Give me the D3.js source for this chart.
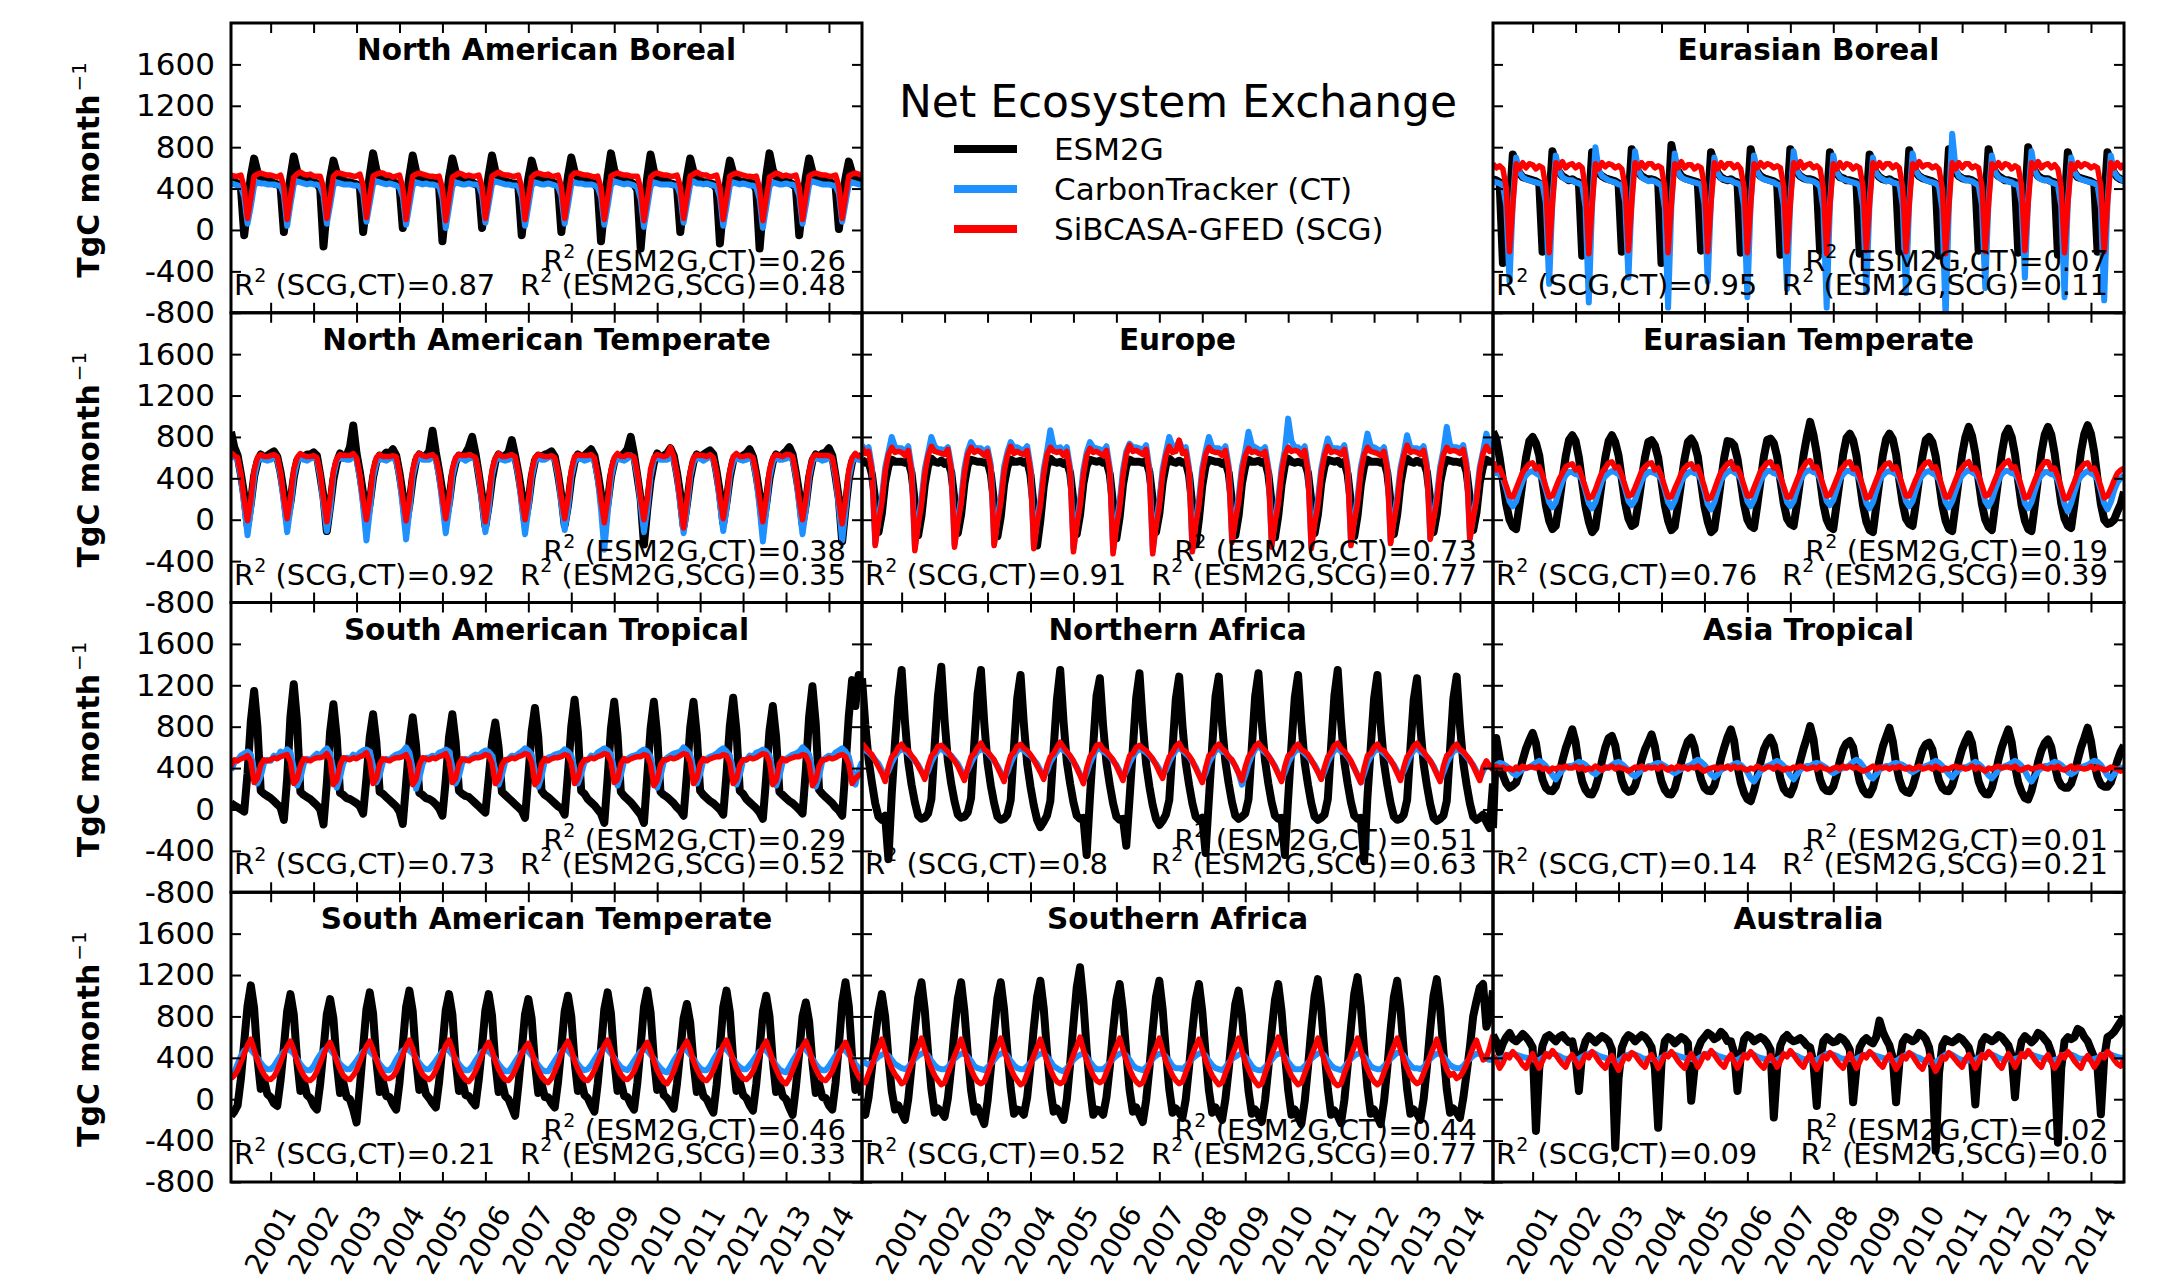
<!DOCTYPE html>
<html>
<head>
<meta charset="utf-8">
<script src="https://cdn.jsdelivr.net/npm/d3@7"></script>
<style>
  html, body { margin: 0; background: #ffffff; }
  svg { display: block; }
  text { font-family: "DejaVu Sans", sans-serif; fill: #000; }
</style>
</head>
<body>
<svg id="chart" width="2158" height="1287"></svg>
<script>
// Monthly net ecosystem exchange, TgC month^-1, Jan 2000 – Dec 2015 (one row per year).

// ---------- North American Boreal ----------
const naBorealESM = [
  480,460,450,410,-50,240,520,690,560,500,480,470,
  470,450,440,420,-20,260,510,710,570,510,490,470,
  480,460,450,400,-160,210,500,670,550,500,480,460,
  460,450,440,420,-20,270,530,740,580,510,480,470,
  470,460,450,430,20,280,520,720,570,500,490,480,
  480,470,460,410,-110,230,510,690,560,500,480,470,
  470,460,440,430,20,290,530,720,570,510,490,470,
  460,450,450,410,-50,250,500,670,550,490,480,470,
  470,460,450,420,-20,260,520,700,560,500,480,470,
  480,470,450,400,-110,220,520,740,580,510,490,480,
  470,460,440,390,-180,200,510,730,570,500,480,470,
  470,450,440,420,-20,260,510,690,560,500,480,460,
  460,450,440,400,-130,230,490,670,550,490,470,460,
  470,460,450,390,-180,210,520,740,580,510,480,470,
  470,460,440,410,-50,250,510,690,560,500,480,470,
  480,470,450,430,10,270,500,660,550,500,480,470
];
const naBorealCT = [
  450,440,430,420,320,60,230,430,460,450,450,440,
  440,440,430,430,340,40,250,440,470,460,450,440,
  450,440,440,420,330,60,240,430,460,450,440,440,
  440,430,430,420,350,80,260,440,470,460,450,440,
  450,440,430,410,320,50,240,430,460,450,440,450,
  440,440,430,420,310,20,220,420,460,450,440,440,
  450,440,440,430,340,70,250,440,470,460,450,440,
  440,430,430,420,320,40,230,430,460,450,440,440,
  450,440,430,420,330,60,240,440,460,450,450,440,
  440,440,430,410,320,50,230,430,470,460,450,440,
  450,440,430,410,300,30,220,420,460,450,440,440,
  440,440,430,430,340,70,250,440,470,450,450,440,
  450,440,430,420,320,40,230,430,460,450,440,450,
  440,430,430,410,300,20,220,420,460,450,440,440,
  450,440,440,420,330,60,240,440,470,460,450,440,
  440,440,430,430,350,80,260,440,460,450,440,440
];
const naBorealSCG = [
  530,520,520,530,410,110,310,520,540,550,540,530,
  530,520,510,530,420,100,320,510,540,560,540,530,
  540,520,520,520,410,110,310,520,550,550,540,530,
  530,520,520,540,430,120,330,520,540,550,550,530,
  530,510,520,530,410,100,320,520,540,550,540,530,
  520,520,510,520,400,90,300,510,530,550,540,520,
  530,520,520,530,420,110,320,520,540,560,540,530,
  530,520,520,530,410,100,310,510,540,550,540,530,
  540,520,520,530,420,110,320,520,550,550,540,530,
  530,520,510,520,410,100,310,520,540,550,540,530,
  530,520,520,520,400,90,300,510,540,550,540,530,
  530,520,520,530,420,110,320,520,540,560,540,530,
  530,510,520,530,410,100,310,520,540,550,540,530,
  520,520,510,520,400,90,300,510,530,550,540,520,
  530,520,520,530,410,100,320,520,540,550,540,530,
  530,520,520,530,420,110,320,520,540,550,540,530
];

// ---------- Eurasian Boreal ----------
const euBorealESM = [
  490,480,460,-320,-180,230,730,620,550,510,500,490,
  480,470,450,-210,-120,260,760,640,560,520,500,480,
  490,470,460,-250,-150,240,750,630,550,520,500,490,
  480,470,450,-210,-110,270,780,650,560,520,500,490,
  490,480,460,-320,-200,220,820,660,570,520,500,490,
  480,470,460,-200,-120,250,750,630,550,510,490,480,
  490,470,460,-220,-140,260,780,640,560,520,500,490,
  480,470,450,-240,-150,250,780,650,560,520,500,490,
  490,480,460,-200,-110,260,750,630,550,510,500,480,
  480,470,460,-230,-140,240,730,620,550,510,490,480,
  490,470,460,-210,-130,250,770,640,560,520,500,490,
  480,470,450,-250,-160,240,780,650,560,520,500,490,
  490,480,460,-200,-120,260,780,640,560,520,500,480,
  480,470,460,-220,-140,250,800,650,570,520,500,490,
  490,470,460,-240,-150,240,750,630,550,510,500,490,
  480,470,450,-210,-120,260,750,630,550,510,490,480
];
const euBorealCT = [
  470,460,450,430,240,-500,280,700,560,510,490,480,
  470,460,450,440,260,-520,300,720,570,510,490,480,
  480,460,450,430,220,-700,250,800,580,520,500,480,
  470,460,440,440,270,-460,320,760,570,510,490,470,
  480,470,450,430,210,-750,240,740,560,510,490,480,
  470,460,450,440,250,-500,300,700,550,500,490,480,
  480,460,450,430,230,-650,270,720,560,510,490,480,
  470,460,440,430,240,-570,290,760,570,520,500,480,
  480,470,450,420,210,-750,250,720,560,510,490,480,
  470,460,450,430,230,-600,280,700,550,510,490,470,
  480,460,450,440,240,-610,280,740,570,520,500,480,
  470,460,450,420,200,-850,230,930,600,520,500,480,
  480,470,450,430,240,-560,290,720,560,510,490,480,
  470,460,440,440,260,-460,310,760,570,510,490,480,
  480,460,450,430,230,-650,270,700,560,510,490,480,
  470,460,450,430,220,-680,260,720,560,510,490,470
];
const euBorealSCG = [
  640,600,620,590,410,-210,240,640,590,650,600,640,
  630,590,620,600,420,-220,250,650,600,660,600,630,
  640,600,630,600,400,-230,240,640,590,650,610,640,
  630,600,620,590,420,-200,260,650,600,650,600,640,
  640,600,620,600,410,-220,250,640,600,660,600,630,
  630,590,620,600,430,-210,260,650,590,650,600,640,
  640,600,630,590,410,-220,240,640,600,650,610,640,
  630,600,620,600,420,-210,250,650,600,660,600,630,
  640,600,620,590,400,-230,240,640,590,650,600,640,
  630,590,620,600,420,-200,260,650,600,650,600,640,
  640,600,630,600,410,-210,250,640,600,660,610,630,
  630,600,620,590,400,-230,240,650,590,650,600,640,
  640,600,620,600,420,-210,250,640,600,650,600,640,
  630,590,620,600,430,-200,260,650,600,660,600,630,
  640,600,630,590,410,-220,250,640,590,650,610,640,
  630,600,620,600,420,-210,250,650,600,650,600,640
];

// ---------- North American Temperate ----------
const naTempESM = [
  850,700,620,440,240,-50,160,420,560,630,600,620,
  640,660,610,460,260,0,170,410,570,620,610,630,
  630,650,620,430,220,-110,130,390,550,640,600,620,
  700,910,640,460,250,-30,160,410,560,620,610,650,
  640,680,620,450,240,-40,150,400,570,630,600,620,
  660,860,650,470,270,0,170,420,560,620,610,640,
  700,800,640,440,230,-60,140,390,560,630,600,620,
  650,770,620,450,250,-20,160,410,570,620,610,630,
  640,660,610,440,230,-50,140,400,560,630,600,620,
  650,680,620,450,250,-30,160,410,560,620,610,640,
  680,800,630,420,200,-240,100,380,550,640,600,620,
  640,690,620,450,240,-60,150,400,560,630,610,630,
  650,670,630,460,260,-30,170,410,570,620,600,620,
  640,680,610,440,240,-50,150,400,560,630,610,630,
  660,700,630,450,250,-40,150,410,570,630,600,640,
  650,690,620,420,200,-210,110,390,560,620,600,620
];
const naTempCT = [
  600,610,580,410,140,-150,90,410,560,600,580,570,
  580,600,590,430,160,-120,110,420,560,610,580,570,
  590,600,580,420,150,-110,100,430,570,600,590,580,
  580,620,580,400,130,-200,80,410,550,600,580,570,
  590,600,570,410,120,-190,90,420,560,610,580,580,
  580,610,580,420,150,-130,100,420,560,600,590,570,
  590,600,590,430,160,-120,110,430,570,600,580,570,
  580,600,580,420,140,-140,100,410,560,610,580,580,
  600,610,580,430,160,-100,110,420,560,600,590,570,
  580,600,570,400,100,-290,60,400,550,600,580,570,
  590,620,580,420,150,-120,100,420,570,610,580,580,
  580,600,580,420,140,-130,100,420,560,600,590,570,
  590,610,590,430,160,-110,110,430,560,600,580,570,
  580,600,570,400,120,-210,80,410,560,610,580,580,
  590,610,580,420,140,-140,100,420,570,600,590,570,
  580,600,580,410,130,-200,90,410,560,600,580,570
];
const naTempSCG = [
  650,620,600,440,190,-10,190,480,600,630,610,610,
  620,630,610,460,210,10,210,490,600,640,620,610,
  610,620,600,450,200,-20,200,470,590,630,620,620,
  620,640,600,440,190,0,200,480,600,630,610,610,
  610,620,610,450,200,-10,190,480,610,640,620,610,
  620,630,600,460,210,10,210,490,600,630,620,620,
  630,620,600,450,200,-20,200,480,600,640,610,610,
  620,630,610,450,190,0,190,470,600,630,620,610,
  610,620,600,460,210,10,210,480,610,630,620,620,
  620,630,600,440,190,-30,190,480,600,640,610,610,
  630,620,610,450,200,0,200,490,600,630,620,610,
  620,700,610,440,180,-80,180,470,600,630,620,620,
  610,630,600,460,210,10,210,480,610,640,610,610,
  620,620,600,450,200,-20,200,480,600,630,620,610,
  630,630,610,450,190,0,190,470,600,630,620,620,
  620,620,600,440,180,-40,180,480,600,640,610,610
];

// ---------- Europe ----------
const europeESM = [
  580,550,560,440,190,-120,60,360,520,580,560,560,
  560,550,570,450,170,-150,40,340,520,590,560,550,
  570,540,560,460,190,-130,50,350,530,580,570,560,
  560,550,560,440,160,-160,30,340,510,580,560,560,
  570,550,570,430,120,-250,0,320,520,590,560,550,
  560,540,560,450,180,-140,50,350,520,580,570,560,
  570,550,560,440,150,-180,30,340,520,580,560,560,
  560,550,570,460,190,-120,60,360,530,590,560,550,
  570,550,560,430,130,-240,10,330,520,580,570,560,
  560,540,560,450,170,-150,40,350,520,580,560,560,
  570,550,570,440,160,-170,40,340,530,590,560,550,
  560,550,560,450,180,-130,50,350,520,580,570,560,
  570,540,560,440,160,-160,40,340,520,580,560,560,
  560,550,570,450,170,-140,50,350,530,590,560,550,
  570,550,560,460,190,-120,60,360,520,580,570,560,
  560,550,570,460,200,-100,70,360,520,580,560,560
];
const europeCT = [
  720,670,700,510,-230,20,210,500,650,800,700,690,
  690,660,710,500,-270,0,190,490,640,800,710,680,
  680,670,700,520,-240,10,200,500,660,750,700,690,
  690,660,690,530,-230,20,210,510,650,750,700,700,
  680,670,710,510,-250,0,190,490,660,865,710,690,
  700,660,700,500,-280,-20,180,480,650,750,700,690,
  680,660,710,500,-300,-30,170,480,660,735,700,700,
  690,670,720,490,-300,-20,180,490,650,800,710,690,
  760,680,700,500,-290,-10,190,500,660,800,700,690,
  690,660,710,520,-200,30,220,510,660,850,720,700,
  680,670,700,510,-240,10,200,500,670,977,760,700,
  700,660,710,500,-260,0,190,490,650,785,700,690,
  690,670,720,520,-230,20,210,510,660,832,710,700,
  680,660,700,520,-210,30,220,500,650,816,700,690,
  690,670,710,530,-180,40,230,510,670,897,720,700,
  700,680,720,540,-180,40,230,510,660,832,710,700
];
const europeSCG = [
  700,640,660,480,-250,-20,160,460,630,700,650,660,
  650,620,670,470,-300,-50,140,440,620,710,660,650,
  640,630,680,490,-265,-30,150,450,630,700,650,670,
  650,620,660,500,-250,-20,160,460,620,710,640,660,
  640,630,670,480,-280,-40,140,440,630,700,660,650,
  660,620,660,470,-310,-60,130,430,620,690,650,660,
  640,620,670,470,-330,-70,120,430,630,720,660,670,
  650,630,680,460,-330,-60,130,440,620,710,650,660,
  770,640,660,470,-310,-50,140,450,630,700,660,650,
  650,620,670,490,-220,-10,170,460,620,690,650,660,
  640,630,660,480,-265,-30,150,450,630,700,660,670,
  660,620,670,470,-280,-40,140,440,620,710,650,660,
  650,630,680,490,-250,-20,160,460,630,700,660,650,
  640,620,660,490,-230,-10,170,460,620,720,650,660,
  650,630,670,500,-190,0,180,470,630,700,660,670,
  660,640,680,510,-190,10,190,480,640,710,660,670
];

// ---------- Eurasian Temperate ----------
const euTempESM = [
  850,780,600,380,150,0,-70,-90,140,380,600,760,
  800,740,620,370,140,-10,-90,-60,150,390,610,770,
  816,760,600,360,130,-20,-120,-80,140,380,600,760,
  816,750,620,390,160,10,-60,-40,160,390,600,750,
  768,720,600,370,140,-10,-100,-70,140,370,590,750,
  784,730,610,360,130,-20,-120,-90,130,380,600,760,
  752,720,590,370,150,0,-60,-80,140,380,610,770,
  784,740,610,380,160,10,-40,-60,150,390,620,800,
  945,820,640,390,150,0,-70,-90,150,390,630,790,
  832,770,620,370,140,-20,-100,-120,130,380,620,780,
  832,780,630,380,160,10,-40,-60,160,400,610,770,
  800,750,610,370,140,-10,-90,-110,140,390,630,800,
  897,810,640,380,150,0,-70,-100,150,400,640,820,
  880,800,630,370,140,-10,-90,-110,140,400,650,820,
  897,820,640,390,160,10,-60,-80,150,410,660,830,
  913,830,650,390,150,0,-40,-30,0,80,150,270
];
const euTempCT = [
  480,450,440,400,300,180,130,180,290,380,430,460,
  470,450,430,390,290,170,120,170,280,370,430,460,
  460,440,430,390,280,160,110,170,280,380,420,450,
  470,460,440,400,300,180,140,190,290,380,430,460,
  460,450,430,390,290,170,120,180,280,370,420,450,
  470,450,440,390,280,150,100,170,280,380,430,460,
  480,460,440,400,300,180,130,190,290,380,430,470,
  470,450,440,400,300,170,130,180,290,380,440,470,
  480,460,450,400,300,180,140,190,290,390,440,470,
  470,450,440,390,290,160,110,170,280,380,430,460,
  470,460,440,400,300,180,130,180,290,380,430,460,
  470,450,430,390,290,170,120,180,280,370,430,460,
  480,460,440,400,300,180,130,190,290,380,440,470,
  470,450,440,390,290,160,110,170,280,380,430,460,
  460,440,430,380,280,150,80,160,270,370,420,450,
  470,450,430,390,280,160,100,170,280,360,400,430
];
const euTempSCG = [
  560,480,500,420,330,230,220,300,380,460,500,540,
  550,490,510,430,320,220,230,310,390,450,510,530,
  540,480,500,410,310,210,220,290,380,460,500,550,
  560,500,510,430,330,230,240,310,390,470,510,540,
  550,480,500,420,320,220,220,300,370,450,500,530,
  540,490,510,420,320,200,210,290,380,460,500,540,
  560,490,500,430,330,230,230,310,390,470,510,550,
  560,500,510,420,320,220,220,300,380,460,510,560,
  570,500,510,430,330,230,240,310,390,470,510,550,
  560,490,500,420,320,210,220,300,380,460,500,540,
  550,490,510,430,330,230,230,310,390,460,510,550,
  560,500,510,420,320,220,220,300,380,460,500,540,
  560,490,500,430,330,230,240,310,390,470,510,550,
  570,500,510,420,320,210,220,300,380,460,510,560,
  560,490,500,420,310,200,210,290,370,460,500,540,
  550,490,500,420,320,210,230,300,380,450,480,500
];

// ---------- South American Tropical ----------
const saTropESM = [
  60,40,20,0,-20,350,850,1145,800,180,150,130,
  110,80,50,20,-100,300,900,1210,850,170,140,120,
  100,70,40,0,-145,250,750,1016,700,160,140,110,
  100,80,60,30,-40,300,700,920,650,170,150,120,
  90,60,30,-20,-140,250,650,890,620,160,140,110,
  100,80,50,10,-60,280,700,920,650,180,150,130,
  120,90,60,30,0,-30,300,650,840,600,170,140,
  110,80,50,20,-10,-80,320,750,980,700,180,140,
  120,90,60,30,10,-50,350,800,1060,750,180,150,
  100,70,40,0,-40,-130,300,780,1040,720,170,130,
  100,70,30,-10,-50,-130,320,780,1040,720,170,140,
  120,90,60,20,-10,-60,340,790,1040,720,180,140,
  110,80,60,30,0,-50,350,810,1080,760,180,150,
  100,70,40,10,-30,-90,310,760,1000,700,170,140,
  110,80,60,30,0,-40,380,900,1190,830,190,150,
  120,90,60,20,-10,-60,400,900,1250,1000,1300,1150
];
const saTropCT = [
  380,450,480,520,540,560,530,380,250,320,450,480,
  470,520,500,560,540,580,550,400,230,300,440,490,
  480,510,540,520,560,590,540,380,210,310,450,500,
  490,530,510,550,570,580,560,420,260,330,460,490,
  480,510,530,540,560,600,550,390,200,300,440,500,
  500,520,510,550,560,580,560,410,250,320,450,490,
  480,510,530,520,550,570,560,520,380,240,330,460,
  490,520,510,540,560,590,570,530,370,220,320,470,
  500,510,530,540,550,580,560,520,390,250,340,460,
  480,520,510,550,570,590,570,530,380,230,330,470,
  490,510,520,530,560,580,560,510,360,210,320,460,
  500,520,540,550,560,600,570,530,390,250,340,480,
  490,510,520,540,570,590,560,520,380,240,330,470,
  480,520,510,550,560,580,560,520,370,230,320,460,
  490,510,530,540,560,600,570,530,380,220,320,470,
  500,520,510,550,570,590,560,510,370,240,380,460
];
const saTropSCG = [
  420,480,470,490,500,520,470,260,300,430,480,470,
  480,500,490,510,520,530,460,250,290,420,490,480,
  470,490,500,500,510,540,480,240,280,430,500,490,
  480,500,490,510,520,550,470,250,300,440,490,480,
  470,490,500,500,510,530,460,240,290,430,500,490,
  480,500,490,510,520,540,470,260,300,440,490,480,
  470,490,500,500,510,530,520,450,250,290,430,480,
  480,500,490,510,520,540,530,460,240,280,440,490,
  470,490,500,500,510,530,520,450,250,300,430,480,
  480,500,490,510,520,540,530,460,260,290,440,490,
  470,490,500,510,510,530,520,440,230,280,430,480,
  480,500,490,500,520,540,530,460,250,300,440,490,
  470,490,500,510,510,530,520,450,250,290,430,480,
  480,500,490,500,520,540,530,460,240,280,440,490,
  470,490,500,510,510,530,520,450,230,280,420,480,
  480,500,490,500,520,530,510,440,250,300,330,350
];

// ---------- Northern Africa ----------
const nAfricaESM = [
  1268,820,480,260,60,-70,-100,-60,-480,150,650,1080,
  1348,850,460,240,70,-60,-90,-80,-40,100,620,1100,
  1380,860,470,250,80,-50,-80,-70,-30,110,640,1120,
  1348,840,450,230,60,-70,-100,-90,-50,90,600,1080,
  1300,820,440,220,40,-100,-170,-120,-60,80,580,1060,
  1348,850,460,250,70,-60,-90,-80,-440,120,620,1100,
  1268,800,450,240,60,-70,-100,-90,-350,110,600,1080,
  1316,830,440,220,40,-90,-150,-110,-50,90,590,1070,
  1284,810,450,240,60,-70,-100,-80,-420,100,610,1090,
  1284,820,460,250,70,-60,-90,-70,-40,100,600,1090,
  1316,840,470,250,70,-60,-90,-80,-440,110,620,1080,
  1300,830,450,240,60,-70,-100,-80,-50,100,610,1100,
  1348,850,460,250,70,-60,-90,-80,-500,120,600,1070,
  1300,820,450,240,60,-70,-100,-90,-50,90,590,1060,
  1268,800,440,230,50,-80,-110,-90,-60,80,580,1070,
  1284,810,450,240,60,-70,-100,-80,-50,-120,-180,250
];
const nAfricaCT = [
  590,570,550,520,480,440,380,320,370,450,510,560,
  580,570,540,510,470,430,370,310,370,460,520,570,
  590,560,540,520,480,440,380,320,380,450,510,560,
  580,570,550,510,470,420,360,300,360,450,520,570,
  590,570,540,520,480,440,380,320,370,460,510,560,
  600,570,550,510,460,410,340,270,350,450,520,580,
  590,560,540,510,470,430,370,310,370,450,510,560,
  580,570,550,520,480,440,390,330,380,460,520,570,
  600,570,540,510,460,410,340,280,350,450,510,570,
  590,560,550,510,470,420,350,240,330,440,520,580,
  620,580,550,520,470,420,350,290,360,450,510,560,
  580,570,540,510,470,430,370,300,370,460,520,570,
  590,560,550,510,460,400,330,260,350,450,510,560,
  580,570,540,510,470,430,370,310,370,450,520,570,
  590,560,540,510,470,420,350,290,360,450,510,560,
  580,570,550,510,470,430,370,300,370,440,420,400
];
const nAfricaSCG = [
  640,600,560,530,470,410,350,270,410,510,540,600,
  630,580,570,520,480,420,360,290,420,520,550,610,
  620,590,560,510,470,420,350,280,400,510,540,600,
  640,580,560,520,480,410,340,270,410,520,550,610,
  630,590,570,530,480,420,360,290,420,510,540,600,
  650,600,560,520,470,400,330,250,400,510,550,620,
  630,580,560,520,480,420,350,280,410,520,540,600,
  620,590,570,530,490,430,360,300,420,510,550,610,
  640,580,560,520,470,400,330,260,400,520,540,600,
  630,590,560,510,480,420,350,280,410,510,550,610,
  640,600,570,520,470,410,340,270,420,520,540,600,
  630,580,560,530,480,420,360,290,410,510,550,620,
  640,590,560,520,470,400,330,260,400,520,540,600,
  630,580,570,520,480,420,350,280,410,510,550,610,
  640,590,560,510,470,410,340,270,420,520,540,600,
  630,580,560,520,480,420,350,280,410,470,420,380
];

// ---------- Asia Tropical ----------
const asiaTropESM = [
  -180,690,500,330,250,210,230,260,350,480,590,670,
  740,640,430,290,210,180,177,220,330,470,590,680,
  774,650,420,270,190,150,145,210,320,470,600,690,
  710,620,430,280,200,170,177,230,340,480,580,650,
  725,610,410,270,190,150,145,200,320,460,570,660,
  693,600,420,290,210,180,177,230,350,490,600,700,
  774,660,420,260,160,100,80,180,310,460,580,650,
  693,620,450,300,200,160,145,220,340,470,590,690,
  806,680,440,290,210,180,177,220,330,470,580,640,
  661,600,420,270,190,150,145,210,330,480,610,700,
  790,660,440,290,200,170,160,220,330,460,570,630,
  645,580,410,280,210,180,177,230,340,470,580,660,
  725,640,430,270,190,150,145,210,330,480,600,690,
  774,650,420,260,170,110,97,180,310,460,570,640,
  677,600,430,290,230,210,210,250,350,480,600,690,
  790,660,450,310,240,220,220,260,360,470,560,620
];
const asiaTropCT = [
  420,430,450,440,420,390,350,330,360,390,400,410,
  430,450,470,450,420,380,330,290,340,380,410,420,
  420,440,460,450,430,400,360,340,370,390,400,410,
  430,450,460,440,410,380,340,320,350,380,400,420,
  420,440,450,440,420,400,370,350,370,390,410,420,
  430,460,480,460,430,390,340,310,340,380,400,410,
  420,440,450,430,400,360,300,270,320,370,400,420,
  430,450,470,450,420,380,330,290,340,380,410,420,
  420,440,450,440,420,400,370,350,370,390,400,410,
  430,460,480,460,420,370,320,300,340,380,410,420,
  420,440,450,440,430,410,380,360,380,400,410,420,
  430,450,470,450,420,380,340,310,350,380,400,410,
  420,440,460,440,410,370,330,300,340,380,410,420,
  430,450,470,450,420,370,310,270,320,370,400,420,
  420,440,460,450,430,400,360,340,360,390,410,420,
  430,450,470,460,430,380,330,300,340,380,400,410
];
const asiaTropSCG = [
  390,420,400,410,390,400,380,410,390,420,400,410,
  410,400,420,390,400,370,400,390,410,400,420,400,
  400,420,390,410,380,400,390,420,400,380,410,400,
  420,390,410,400,390,370,390,410,400,420,390,410,
  400,410,390,420,400,380,410,390,420,400,410,390,
  410,400,420,390,370,390,400,410,390,410,400,420,
  390,420,400,410,390,380,400,390,420,400,390,410,
  410,390,420,400,380,400,390,410,400,420,410,390,
  400,410,390,420,400,390,380,400,410,390,420,400,
  420,400,410,390,370,380,400,420,390,410,400,410,
  390,410,400,420,400,390,410,390,400,420,390,400,
  410,390,420,400,380,400,390,410,420,400,410,390,
  400,420,390,410,390,370,400,390,410,420,400,410,
  410,400,420,390,380,400,410,390,400,410,420,400,
  390,410,400,420,390,380,400,420,390,410,400,390,
  400,420,390,410,400,380,390,410,400,390,370,390
];

// ---------- South American Temperate ----------
const saTempESM = [
  -160,-120,-60,200,550,900,1100,880,400,100,190,50,
  20,-40,-65,180,500,850,1016,820,380,80,180,40,
  10,-60,-100,150,480,820,968,780,350,60,160,20,
  0,-100,-225,120,500,870,1032,830,370,70,170,30,
  20,-50,-100,160,520,890,1050,850,390,90,190,50,
  10,-40,-80,170,500,860,1016,820,370,80,180,40,
  30,-20,-60,190,510,860,1016,810,360,70,170,30,
  0,-80,-160,140,470,820,968,780,350,60,150,20,
  20,-40,-80,170,500,850,1000,800,370,80,180,40,
  10,-60,-120,150,490,870,1032,830,380,80,170,30,
  20,-50,-100,160,510,890,1050,840,390,90,190,40,
  10,-40,-90,150,460,780,920,740,350,70,160,30,
  0,-70,-130,140,500,890,1050,840,380,80,170,40,
  10,-60,-110,150,480,850,1000,800,370,70,160,30,
  0,-80,-150,120,450,800,935,750,350,60,150,20,
  10,-60,-100,160,520,930,1130,900,410,90,180,40
];
const saTempCT = [
  200,260,340,420,470,490,480,440,400,350,310,290,
  290,320,370,420,460,480,470,440,390,340,300,280,
  280,320,380,430,470,490,480,440,390,340,310,290,
  290,330,370,420,460,480,460,430,390,340,300,280,
  280,320,380,430,470,490,470,440,400,350,310,290,
  290,330,370,420,460,480,470,430,390,340,300,280,
  280,320,370,420,460,470,460,430,390,340,300,270,
  270,310,360,410,450,470,460,420,380,330,290,270,
  270,320,370,420,460,480,470,430,390,340,300,280,
  290,330,380,430,470,490,480,440,400,350,310,290,
  280,320,370,420,460,480,470,430,390,340,300,270,
  260,310,370,420,460,480,470,430,390,340,300,280,
  280,320,380,430,470,490,480,440,390,340,310,290,
  290,330,370,420,460,480,470,430,380,330,290,270,
  260,310,370,420,470,490,480,440,390,340,300,280,
  280,320,370,420,460,480,470,430,390,340,300,280
];
const saTempSCG = [
  200,230,280,360,440,520,580,480,380,300,240,200,
  190,220,280,360,440,510,560,480,370,290,230,190,
  180,210,270,350,430,500,550,470,370,290,230,200,
  190,230,280,360,440,510,560,480,380,300,240,200,
  200,220,270,350,430,510,570,490,380,300,240,210,
  190,220,280,360,440,520,570,480,370,290,230,190,
  170,210,270,350,430,500,550,470,370,290,230,190,
  180,220,280,360,440,500,540,460,360,280,220,180,
  160,200,270,350,440,510,560,480,370,290,230,190,
  180,220,280,360,440,520,570,480,380,300,240,200,
  190,220,270,350,430,500,550,470,370,280,220,170,
  150,200,270,360,440,510,560,480,370,290,230,190,
  180,220,280,360,440,520,570,480,380,300,240,200,
  190,220,270,350,430,510,560,470,370,290,220,170,
  150,200,280,360,440,510,560,480,370,290,230,190,
  180,220,270,350,430,500,550,470,360,280,220,180
];

// ---------- Southern Africa ----------
const sAfricaESM = [
  -100,-150,20,300,600,850,1016,800,400,80,-100,-60,
  -130,-200,0,320,680,980,1130,860,450,100,-130,-90,
  -120,-170,10,310,670,970,1130,850,440,90,-120,-80,
  -160,-240,-20,300,660,980,1130,870,460,110,-140,-100,
  -110,-150,20,330,690,990,1145,880,460,100,-120,-90,
  -140,-200,0,340,720,1080,1275,950,480,110,-150,-100,
  -110,-150,20,310,660,960,1113,850,440,90,-120,-80,
  -150,-220,-10,300,670,990,1145,870,450,100,-130,-90,
  -130,-180,0,310,660,960,1113,850,440,90,-130,-80,
  -140,-200,0,290,630,920,1050,810,420,80,-140,-100,
  -150,-220,-10,300,660,960,1113,850,440,90,-150,-100,
  -170,-240,-20,310,680,1000,1160,880,460,100,-150,-110,
  -160,-230,-10,320,690,1020,1180,900,470,110,-140,-100,
  -170,-240,-20,300,670,990,1145,870,450,100,-140,-100,
  -140,-200,0,310,680,1000,1160,880,460,100,-130,-90,
  -130,-180,10,250,500,800,950,1080,1113,700,800,1050
];
const sAfricaCT = [
  380,350,330,350,380,410,430,440,420,380,340,320,
  300,290,310,350,390,420,440,450,420,370,330,300,
  290,290,310,350,390,420,440,440,410,370,320,300,
  290,280,310,340,380,420,440,450,420,370,330,300,
  290,290,320,350,390,420,440,440,410,370,320,300,
  280,270,300,340,380,410,430,440,410,360,320,290,
  290,290,320,350,390,420,440,450,420,380,330,300,
  290,280,310,340,390,420,440,440,410,370,320,300,
  300,290,320,350,390,420,440,450,420,370,330,300,
  290,280,310,350,390,410,430,440,410,370,320,290,
  280,280,310,340,380,420,440,440,410,360,320,290,
  290,290,320,350,390,420,440,450,420,370,330,300,
  290,280,310,350,390,420,440,440,410,370,320,300,
  290,290,320,350,390,420,450,450,420,370,330,300,
  300,290,310,350,390,420,440,440,410,370,330,310,
  300,300,320,360,390,420,440,440,420,390,380,390
];
const sAfricaSCG = [
  180,160,250,330,420,500,580,470,380,300,240,200,
  150,170,260,340,430,510,590,480,380,300,230,180,
  140,160,250,330,420,500,580,470,370,290,220,170,
  150,170,250,340,430,510,590,480,380,300,230,180,
  140,160,250,330,420,500,580,470,370,290,220,170,
  150,170,260,340,430,510,600,480,380,300,230,180,
  160,180,260,340,430,510,590,480,380,290,220,170,
  140,160,250,330,420,500,590,470,370,300,230,180,
  150,170,260,340,430,510,580,480,380,300,230,180,
  140,160,250,330,420,500,590,470,370,290,220,170,
  130,150,250,340,430,510,600,480,380,300,230,180,
  140,160,250,330,420,500,590,470,370,290,220,160,
  130,150,250,330,420,510,590,470,370,290,220,170,
  140,170,260,340,430,510,590,480,380,300,230,180,
  150,170,250,330,420,500,580,470,370,290,230,250,
  200,220,270,340,420,500,570,470,380,400,500,620
];

// ---------- Australia ----------
const australiaESM = [
  620,560,450,540,600,640,580,560,590,630,600,560,
  500,-306,300,520,600,620,590,560,600,620,580,550,
  560,400,80,450,560,610,580,550,580,610,590,560,
  480,-470,200,500,580,620,600,560,590,620,600,560,
  500,300,-275,350,560,600,580,540,570,600,580,540,
  -15,300,480,560,600,640,620,580,600,650,620,560,
  560,450,80,420,580,620,600,560,580,600,580,540,
  480,-177,300,520,590,620,580,560,570,590,560,520,
  500,350,-65,380,560,600,570,550,560,600,580,540,
  480,-30,300,500,560,590,560,540,600,760,650,580,
  520,400,-30,350,550,600,580,560,580,640,620,580,
  500,300,-500,250,520,580,560,550,570,600,580,540,
  500,380,-50,380,550,600,580,560,580,620,600,560,
  520,420,20,400,560,610,580,550,580,640,620,580,
  540,450,300,-420,300,560,600,580,600,680,660,600,
  560,480,400,300,-145,400,600,620,650,700,750,800
];
const australiaCT = [
  400,390,390,400,420,430,440,430,420,410,400,400,
  390,370,380,400,420,440,440,430,420,400,390,390,
  390,380,390,410,430,440,450,440,420,410,400,390,
  380,360,370,390,420,430,440,430,420,400,390,390,
  390,380,380,400,420,440,440,430,420,410,400,390,
  390,380,390,410,430,440,450,440,420,410,400,390,
  390,380,380,400,420,430,440,430,410,400,390,390,
  380,370,380,400,420,430,440,430,420,400,390,380,
  380,370,380,400,420,440,440,430,420,400,390,390,
  390,380,390,410,420,430,440,430,420,410,400,390,
  380,370,370,390,410,430,440,430,410,400,380,370,
  360,350,360,380,410,430,440,430,410,390,380,370,
  380,370,380,400,420,430,440,430,420,400,390,380,
  390,380,390,400,420,440,440,430,420,410,400,390,
  390,370,380,390,410,430,440,430,420,400,390,390,
  390,380,390,400,420,430,440,430,420,410,400,400
];
const australiaSCG = [
  420,380,300,350,430,400,460,420,380,330,300,380,
  440,360,300,370,440,410,470,430,380,340,310,390,
  430,370,310,360,430,400,460,420,370,330,300,380,
  420,340,280,350,420,390,450,430,380,340,310,390,
  430,370,300,360,430,410,460,420,370,330,300,380,
  440,380,310,370,440,400,470,430,380,340,310,390,
  430,360,300,360,430,400,460,420,370,330,300,380,
  420,370,310,370,440,410,470,430,380,340,310,390,
  430,350,290,350,420,390,450,420,370,330,300,380,
  440,370,300,360,430,400,460,430,380,340,310,390,
  430,360,290,340,420,390,450,420,370,320,290,370,
  420,340,270,330,410,390,450,420,380,340,310,390,
  430,370,300,360,430,400,460,430,380,330,300,380,
  440,380,310,370,440,410,470,430,380,340,310,390,
  430,360,300,350,430,400,460,420,370,330,300,380,
  420,370,310,360,430,400,460,430,380,340,320,390
];

// Axis ticks: labelled year positions along the month index, and NEE levels.
const yearTickPos = [12, 25, 38, 51, 64, 77, 90, 103, 116, 129, 142, 155, 168, 181];
const yearTickLabels = ["2001","2002","2003","2004","2005","2006","2007","2008","2009","2010","2011","2012","2013","2014"];
const neeTicks = [-800, -400, 0, 400, 800, 1200, 1600];

// Squared correlations per region: [ESM2G vs CT, SCG vs CT, ESM2G vs SCG]
const r2NaBoreal   = ["0.26", "0.87", "0.48"];
const r2EuBoreal   = ["0.07", "0.95", "0.11"];
const r2NaTemp     = ["0.38", "0.92", "0.35"];
const r2Europe     = ["0.73", "0.91", "0.77"];
const r2EuTemp     = ["0.19", "0.76", "0.39"];
const r2SaTrop     = ["0.29", "0.73", "0.52"];
const r2NAfrica    = ["0.51", "0.8",  "0.63"];
const r2AsiaTrop   = ["0.01", "0.14", "0.21"];
const r2SaTemp     = ["0.46", "0.21", "0.33"];
const r2SAfrica    = ["0.44", "0.52", "0.77"];
const r2Australia  = ["0.02", "0.09", "0.0"];

const regions = [
  { name: "North American Boreal",     row: 0, col: 0, esm: naBorealESM,  ct: naBorealCT,  scg: naBorealSCG,  r2: r2NaBoreal },
  { name: "Eurasian Boreal",           row: 0, col: 2, esm: euBorealESM,  ct: euBorealCT,  scg: euBorealSCG,  r2: r2EuBoreal },
  { name: "North American Temperate",  row: 1, col: 0, esm: naTempESM,    ct: naTempCT,    scg: naTempSCG,    r2: r2NaTemp },
  { name: "Europe",                    row: 1, col: 1, esm: europeESM,    ct: europeCT,    scg: europeSCG,    r2: r2Europe },
  { name: "Eurasian Temperate",        row: 1, col: 2, esm: euTempESM,    ct: euTempCT,    scg: euTempSCG,    r2: r2EuTemp },
  { name: "South American Tropical",   row: 2, col: 0, esm: saTropESM,    ct: saTropCT,    scg: saTropSCG,    r2: r2SaTrop },
  { name: "Northern Africa",           row: 2, col: 1, esm: nAfricaESM,   ct: nAfricaCT,   scg: nAfricaSCG,   r2: r2NAfrica },
  { name: "Asia Tropical",             row: 2, col: 2, esm: asiaTropESM,  ct: asiaTropCT,  scg: asiaTropSCG,  r2: r2AsiaTrop },
  { name: "South American Temperate",  row: 3, col: 0, esm: saTempESM,    ct: saTempCT,    scg: saTempSCG,    r2: r2SaTemp },
  { name: "Southern Africa",           row: 3, col: 1, esm: sAfricaESM,   ct: sAfricaCT,   scg: sAfricaSCG,   r2: r2SAfrica },
  { name: "Australia",                 row: 3, col: 2, esm: australiaESM, ct: australiaCT, scg: australiaSCG, r2: r2Australia }
];

const seriesStyle = [
  { key: "esm", label: "ESM2G",              color: "#000000", width: 8 },
  { key: "ct",  label: "CarbonTracker (CT)", color: "#1e90ff", width: 6 },
  { key: "scg", label: "SiBCASA-GFED (SCG)", color: "#ff0000", width: 5.5 }
];

// ---------- layout ----------
const left0 = 231, top0 = 23;
const W = 631, H = 289.75;
const tickLen = 10;

const svg = d3.select("#chart");
const nMonths = naBorealESM.length;
const x = d3.scaleLinear().domain([0, nMonths - 1]).range([0, W]);
const y = d3.scaleLinear().domain([-800, 2000]).range([H, 0]);
const line = d3.line().x((d, i) => x(i)).y(d => y(d));

function styleAxis(sel) {
  sel.select(".domain").remove();
  sel.selectAll(".tick line").attr("stroke", "#000").attr("stroke-width", 2);
  sel.attr("font-family", "DejaVu Sans, sans-serif");
}

function r2Text(g, px, py, anchor, pair, value) {
  const t = g.append("text")
    .attr("x", px).attr("y", py)
    .attr("text-anchor", anchor)
    .attr("font-size", 29);
  t.append("tspan").text("R");
  t.append("tspan").attr("font-size", 19).attr("dy", -13).text("2");
  t.append("tspan").attr("dy", 13).text(` (${pair})=${value}`);
}

regions.forEach((r, k) => {
  const g = svg.append("g")
    .attr("transform", `translate(${left0 + r.col * W},${top0 + r.row * H})`);

  const clipId = "panel-clip-" + k;
  g.append("clipPath").attr("id", clipId)
    .append("rect").attr("width", W).attr("height", H);

  const plot = g.append("g").attr("clip-path", `url(#${clipId})`);
  seriesStyle.forEach(s => {
    plot.append("path")
      .datum(r[s.key])
      .attr("fill", "none")
      .attr("stroke", s.color)
      .attr("stroke-width", s.width)
      .attr("stroke-linejoin", "round")
      .attr("d", line);
  });

  // inward ticks on all four sides
  g.append("g").attr("transform", `translate(0,${H})`)
    .call(d3.axisBottom(x).tickValues(yearTickPos).tickSize(-tickLen).tickFormat(""))
    .call(styleAxis);
  g.append("g")
    .call(d3.axisTop(x).tickValues(yearTickPos).tickSize(-tickLen).tickFormat(""))
    .call(styleAxis);
  const yl = g.append("g")
    .call(d3.axisLeft(y).tickValues(neeTicks).tickSize(-tickLen).tickPadding(16)
      .tickFormat(r.col === 0 ? (d => String(d)) : ""))
    .call(styleAxis);
  yl.selectAll(".tick text").attr("font-size", 31).attr("fill", "#000");
  g.append("g").attr("transform", `translate(${W},0)`)
    .call(d3.axisRight(y).tickValues(neeTicks).tickSize(-tickLen).tickFormat(""))
    .call(styleAxis);

  // frame
  g.append("rect")
    .attr("width", W).attr("height", H)
    .attr("fill", "none").attr("stroke", "#000").attr("stroke-width", 3);

  // title
  g.append("text")
    .attr("x", W / 2).attr("y", 37)
    .attr("text-anchor", "middle")
    .attr("font-weight", "bold").attr("font-size", 29.5)
    .text(r.name);

  // correlation labels
  r2Text(g, W - 16, H - 42, "end", "ESM2G,CT", r.r2[0]);
  r2Text(g, 3, H - 18, "start", "SCG,CT", r.r2[1]);
  r2Text(g, W - 16, H - 18, "end", "ESM2G,SCG", r.r2[2]);

  // rotated year labels on the bottom row
  if (r.row === 3) {
    yearTickPos.forEach((p, i) => {
      g.append("text")
        .attr("transform", `translate(${x(p)},${H + 58}) rotate(-60)`)
        .attr("text-anchor", "middle")
        .attr("dominant-baseline", "central")
        .attr("font-size", 28.5)
        .text(yearTickLabels[i]);
    });
  }
});

// row axis labels
for (let row = 0; row < 4; row++) {
  const t = svg.append("text")
    .attr("transform", `translate(99,${top0 + row * H + H / 2 + 2}) rotate(-90)`)
    .attr("text-anchor", "middle")
    .attr("font-size", 30);
  t.append("tspan").attr("font-weight", "bold").text("TgC month");
  t.append("tspan").attr("font-size", 20).attr("dy", -13).attr("dx", 3).text("\u22121");
}

// legend in the empty top-centre cell
const legend = svg.append("g");
legend.append("text")
  .attr("x", 1178).attr("y", 117)
  .attr("text-anchor", "middle")
  .attr("font-size", 44)
  .text("Net Ecosystem Exchange");
seriesStyle.forEach((s, i) => {
  const ly = 149 + i * 40;
  legend.append("line")
    .attr("x1", 954).attr("x2", 1017)
    .attr("y1", ly).attr("y2", ly)
    .attr("stroke", s.color).attr("stroke-width", 8);
  legend.append("text")
    .attr("x", 1054).attr("y", ly + 11)
    .attr("font-size", 31)
    .text(s.label);
});
</script>
</body>
</html>
